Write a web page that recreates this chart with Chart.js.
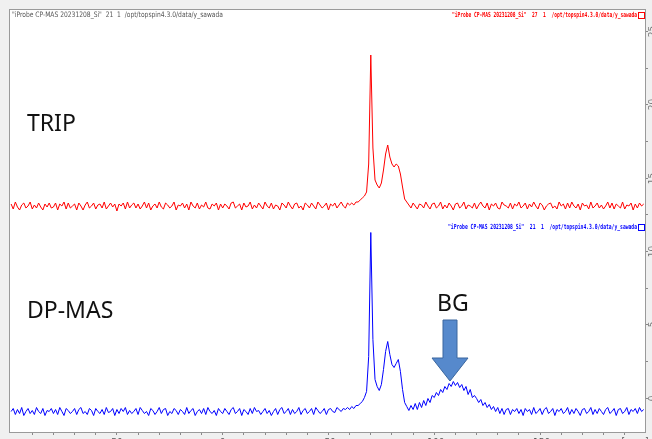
<!DOCTYPE html>
<html>
<head>
<meta charset="utf-8">
<script src="https://cdn.jsdelivr.net/npm/chart.js@4.4.1/dist/chart.umd.min.js"></script>
<style>
html, body { margin: 0; padding: 0; overflow: hidden; background: #f0f0f0; width: 652px; height: 439px; }
#wrap { position: absolute; left: 0; top: 0; width: 670px; height: 452px; }
</style>
</head>
<body>
<div id="wrap"><canvas id="nmr" width="670" height="452"></canvas></div>
<script>
// chemical shift grid, 1 ppm per point, 100 ... -199 ppm
var ppm = Array.from({ length: 300 }, function (_, i) { return 100 - i; });

// intensity in px above each baseline
var tripValues = [
	2,-3,4,-1,-4,1,3,-2,0,4,-3,1,-2,3,-1,-4,2,-1,3,-2,
	-1,3,-4,2,0,4,-3,3,-2,0,2,-4,3,0,-4,1,4,-2,0,3,
	-3,1,2,-2,4,-3,0,3,-1,2,-5,2,0,3,-3,4,-2,1,3,-2,
	2,-3,0,4,-2,3,-4,0,2,-2,4,-1,-3,3,1,-2,0,4,-4,1,
	0,3,-2,2,-4,4,0,-2,3,-3,1,-1,4,-2,-3,2,0,3,-4,2,
	-2,2,0,-3,3,4,-2,0,2,-4,3,-1,0,4,-3,1,-2,3,0,-3,
	4,0,-2,3,-3,1,0,-4,3,1,-2,4,0,-3,2,3,-2,0,-4,3,
	1,-2,3,0,-3,4,1,-2,0,3,-4,2,0,3,-2,1,4,0,-2,3,
	1,3,1,4,4,6,8,10,14,42,151,58,26,21,18,23,36,52,61,49,
	42,39,42,40,32,19,7,4,1,-2,3,0,-3,2,1,-2,4,0,-3,2,
	3,-2,0,4,-3,1,-2,3,0,-4,2,3,-2,0,4,-3,1,0,-2,3,
	-3,1,4,0,-2,3,-4,2,0,3,-2,-3,4,1,0,-2,3,-3,2,0,
	4,-2,0,3,-3,2,-1,4,0,-3,3,1,-4,0,2,3,-2,0,-3,4,
	0,2,-3,3,-2,4,0,-2,2,-4,3,0,1,-3,4,-2,0,3,-2,1,
	-3,0,4,-2,3,-3,2,0,-2,4,-3,1,0,3,-4,2,-2,3,0,2
];

var dpmasValues = [
	0,3,-3,2,-2,4,-4,0,3,-2,1,-3,4,0,-2,3,-4,1,0,3,
	-2,2,-3,4,0,-4,3,1,-2,0,3,-3,2,4,-2,0,-3,3,1,-4,
	3,0,-2,2,-3,4,-1,0,3,-4,2,-2,3,0,4,-3,1,-2,0,3,
	-3,4,1,-2,0,-4,3,1,-3,0,4,-2,2,3,-4,0,-2,3,1,-3,
	2,0,-3,4,-2,1,3,-4,0,2,-2,3,-3,4,0,-2,1,-4,3,0,
	-2,3,0,-3,2,4,-2,0,3,-4,2,0,-3,3,-2,4,0,1,-3,0,
	3,-2,1,-4,0,3,-3,2,4,-2,0,3,-3,2,-2,0,4,-3,1,3,
	-2,0,3,-3,4,1,-2,0,3,-3,2,3,0,-1,4,2,0,3,2,4,
	2,5,3,6,6,8,10,14,20,55,179,72,32,25,21,27,42,60,70,57,
	47,44,48,52,40,22,9,5,1,6,2,8,2,9,4,11,6,13,9,16,
	14,19,16,22,19,25,22,28,25,30,26,29,24,27,21,25,17,22,14,16,
	13,9,12,6,9,4,7,2,5,0,4,-2,3,-3,2,3,-3,2,0,3,
	-2,2,-4,3,0,2,-3,4,-2,0,3,-3,2,4,-2,0,3,-4,2,0,
	3,-2,0,4,-3,2,-2,3,0,-4,2,3,-2,0,4,-3,2,-2,3,0,
	-3,2,4,-2,0,3,-4,2,3,-2,0,4,-3,2,0,3,-2,4,0,2
];

// intensity axis on the right
var rightTicks = [13, 50, 87, 123, 160, 197, 233, 270, 307, 343, 380];
var rightLabels = ["0", "5", "10", "15", "20", "25"];

var headerGray = '"iProbe CP-MAS 20231208_Si"  21  1  /opt/topspin4.3.0/data/y_sawada';
var headerRed = '"iProbe CP-MAS 20231208_Si"  27  1  /opt/topspin4.3.0/data/y_sawada';
var headerBlue = '"iProbe CP-MAS 20231208_Si"  21  1  /opt/topspin4.3.0/data/y_sawada';

var overlay = {
	id: "overlay",
	beforeDraw: function (chart) {
		var ctx = chart.ctx, a = chart.chartArea;
		ctx.save();
		ctx.fillStyle = "#f0f0f0";
		ctx.fillRect(0, 0, chart.width, chart.height);
		ctx.fillStyle = "#ffffff";
		ctx.fillRect(a.left, a.top, a.right - a.left, a.bottom - a.top);
		ctx.restore();
	},
	afterDraw: function (chart) {
		var ctx = chart.ctx, a = chart.chartArea;
		ctx.save();
		ctx.strokeStyle = "#9a9a9a";
		ctx.lineWidth = 1;
		ctx.strokeRect(a.left + 0.5, a.top + 0.5, a.right - a.left, a.bottom - a.top);

		// headers
		ctx.textBaseline = "middle";
		ctx.font = '7.5px "DejaVu Sans"';
		ctx.fillStyle = "#555";
		ctx.textAlign = "left";
		ctx.fillText(headerGray, 12, 15, 211);

		ctx.font = 'bold 7px "DejaVu Sans Mono"';
		ctx.textAlign = "right";
		ctx.fillStyle = "#ff0000";
		ctx.fillText(headerRed, 637, 15, 185);
		ctx.strokeStyle = "#ff0000";
		ctx.strokeRect(638.5, 12.5, 6, 6);
		ctx.fillStyle = "#0000ff";
		ctx.fillText(headerBlue, 637, 227, 189);
		ctx.strokeStyle = "#0000ff";
		ctx.strokeRect(638.5, 224.5, 6, 6);

		// rotated intensity labels, cut by the window edge
		var yB = chart.scales.yB;
		ctx.font = '9px "DejaVu Sans"';
		ctx.fillStyle = "#777";
		ctx.textAlign = "center";
		for (var i = 0; i < rightLabels.length; i++) {
			var py = yB.getPixelForValue(rightTicks[i * 2]);
			ctx.save();
			ctx.translate(653, py);
			ctx.rotate(-Math.PI / 2);
			ctx.fillText(rightLabels[i], 0, 0);
			ctx.restore();
		}

		// unit label on the ppm axis
		ctx.fillStyle = "#555";
		ctx.textBaseline = "top";
		ctx.fillText("[ppm]", 635, 437);

		// annotations
		ctx.fillStyle = "#111";
		ctx.textAlign = "left";
		ctx.textBaseline = "alphabetic";
		ctx.font = '23px "Noto Sans"';
		ctx.fillText("TRIP", 27, 131);
		ctx.fillText("DP-MAS", 27, 318);
		ctx.fillText("BG", 437, 311);

		ctx.beginPath();
		ctx.moveTo(443, 320);
		ctx.lineTo(457, 320);
		ctx.lineTo(457, 358);
		ctx.lineTo(468, 358);
		ctx.lineTo(450, 381);
		ctx.lineTo(432, 358);
		ctx.lineTo(443, 358);
		ctx.closePath();
		ctx.fillStyle = "#5689cc";
		ctx.fill();
		ctx.strokeStyle = "#3b679f";
		ctx.stroke();
		ctx.restore();
	}
};

new Chart(document.getElementById("nmr").getContext("2d"), {
	type: "line",
	data: {
		labels: ppm,
		datasets: [{
			label: "TRIP",
			data: tripValues,
			yAxisID: "yR",
			borderColor: "rgb(255,0,0)",
			borderWidth: 1,
			pointRadius: 0,
			tension: 0
		}, {
			label: "DP-MAS",
			data: dpmasValues,
			yAxisID: "yB",
			borderColor: "rgb(0,0,255)",
			borderWidth: 1,
			pointRadius: 0,
			tension: 0
		}]
	},
	options: {
		responsive: false,
		devicePixelRatio: 1,
		animation: false,
		layout: { padding: { left: 9, top: 9, right: 0, bottom: 0 } },
		plugins: { legend: { display: false }, tooltip: { enabled: false } },
		scales: {
			x: {
				type: "linear",
				reverse: true,
				min: -199.6,
				max: 101,
				afterFit: function (s) { s.height = 20; },
				afterBuildTicks: function (s) {
					// no tick at the left frame edge
					s.ticks = s.ticks.filter(function (t) { return t.value < 100; });
				},
				border: { display: false },
				grid: { drawOnChartArea: false, tickLength: 3, color: "#888" },
				ticks: {
					stepSize: 10,
					autoSkip: false,
					includeBounds: false,
					maxRotation: 0,
					padding: 2,
					color: "#555",
					font: { size: 9, family: "DejaVu Sans" },
					callback: function (v) {
						var r = Math.round(v);
						return r % 50 === 0 ? String(r) : "";
					}
				}
			},
			yB: {
				position: "right",
				min: -20.5,
				max: 402.5,
				afterFit: function (s) { s.width = 25; },
				afterBuildTicks: function (s) {
					s.ticks = rightTicks.map(function (v) { return { value: v }; });
				},
				border: { display: false },
				grid: { drawOnChartArea: false, tickLength: 3, color: "#888" },
				ticks: { display: false }
			},
			yR: {
				display: false,
				min: -226,
				max: 197
			}
		}
	},
	plugins: [overlay]
});
</script>
</body>
</html>
